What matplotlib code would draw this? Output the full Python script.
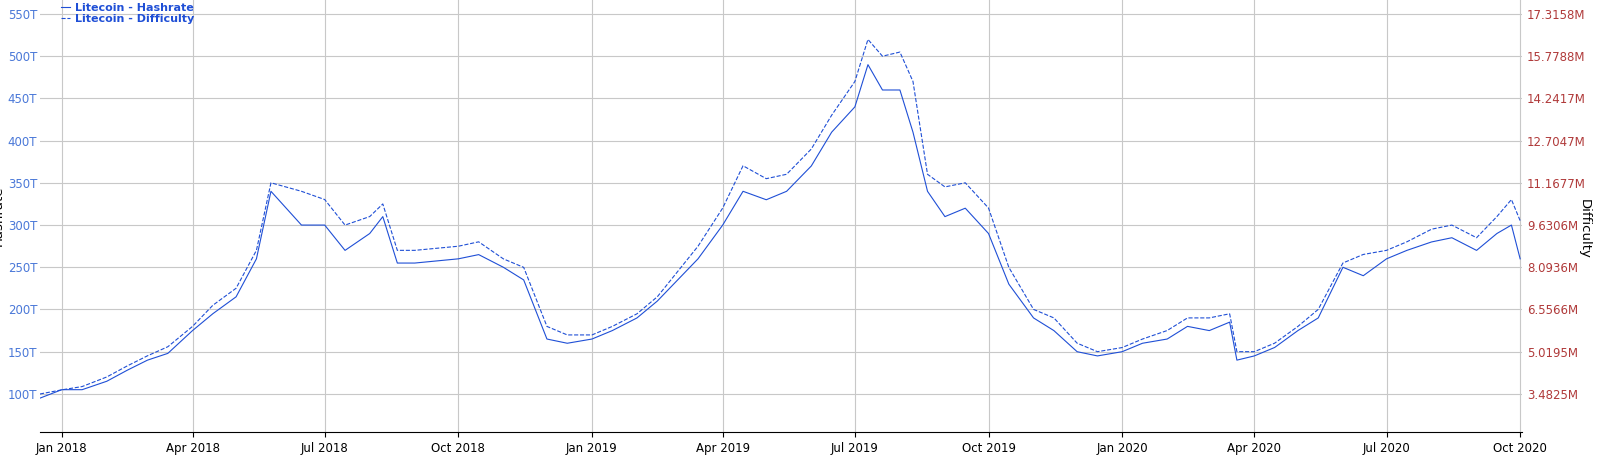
import matplotlib
matplotlib.use("Agg")
from matplotlib import pyplot as plt
import matplotlib.dates as mdates
import pandas as pd

# sample dates
dates = ["2017-12-17", "2018-01-01", "2018-01-15", "2018-02-01", "2018-02-15", "2018-03-01",
         "2018-03-15", "2018-04-01", "2018-04-15", "2018-05-01", "2018-05-15", "2018-05-25",
         "2018-06-15", "2018-07-01", "2018-07-15", "2018-08-01", "2018-08-10", "2018-08-20",
         "2018-09-01", "2018-10-01", "2018-10-15", "2018-11-01", "2018-11-15", "2018-12-01",
         "2018-12-15", "2019-01-01", "2019-01-15", "2019-02-01", "2019-02-15", "2019-03-01",
         "2019-03-15", "2019-04-01", "2019-04-15", "2019-05-01", "2019-05-15", "2019-06-01",
         "2019-06-15", "2019-07-01", "2019-07-10", "2019-07-20", "2019-08-01", "2019-08-10",
         "2019-08-20", "2019-09-01", "2019-09-15", "2019-10-01", "2019-10-15", "2019-11-01",
         "2019-11-15", "2019-12-01", "2019-12-15", "2020-01-01", "2020-01-15", "2020-02-01",
         "2020-02-15", "2020-03-01", "2020-03-15", "2020-03-20", "2020-04-01", "2020-04-15",
         "2020-05-01", "2020-05-15", "2020-06-01", "2020-06-15", "2020-07-01", "2020-07-15",
         "2020-08-01", "2020-08-15", "2020-09-01", "2020-09-15", "2020-09-25", "2020-10-01"]

hashrate_T = [95, 105, 105, 115, 128, 140, 148, 175, 195, 215, 260, 340,
              300, 300, 270, 290, 310, 255, 255, 260, 265, 250, 235, 165,
              160, 165, 175, 190, 210, 235, 260, 300, 340, 330, 340, 370,
              410, 440, 490, 460, 460, 410, 340, 310, 320, 290, 230, 190,
              175, 150, 145, 150, 160, 165, 180, 175, 185, 140, 145, 155,
              175, 190, 250, 240, 260, 270, 280, 285, 270, 290, 300, 260]

difficulty_M = [3.48, 3.63, 3.75, 4.1, 4.5, 4.87, 5.2, 5.94, 6.71, 7.33, 8.71, 11.17,
                10.86, 10.56, 9.63, 9.94, 10.4, 8.71, 8.71, 8.86, 9.02, 8.4, 8.09, 5.94,
                5.63, 5.63, 5.94, 6.4, 7.02, 7.94, 8.86, 10.25, 11.79, 11.32, 11.48, 12.4,
                13.63, 14.86, 16.39, 15.78, 15.93, 14.86, 11.48, 11.02, 11.17, 10.25, 8.09, 6.56,
                6.25, 5.33, 5.02, 5.17, 5.48, 5.79, 6.25, 6.25, 6.4, 5.02, 5.02, 5.33,
                5.94, 6.56, 8.25, 8.56, 8.71, 9.02, 9.48, 9.63, 9.17, 9.94, 10.56, 9.79]

left_ticks = [100, 150, 200, 250, 300, 350, 400, 450, 500, 550]
right_labels = ["3.4825M", "5.0195M", "6.5566M", "8.0936M", "9.6306M",
                "11.1677M", "12.7047M", "14.2417M", "15.7788M", "17.3158M"]

x = pd.to_datetime(dates)
blue = "#1f4fd6"

fig = plt.figure(figsize=(16, 4.58), dpi=100)
ax = fig.add_axes([0.025, 0.057, 0.926, 0.943])
ax.plot(x, hashrate_T, color=blue, lw=0.8)
ax.set_ylim(55, 566.6)
ax.set_yticks(left_ticks)
ax.set_yticklabels([f"{v}T" for v in left_ticks], color="#4a78d8", fontsize=8.5)
ax.tick_params(axis="y", length=0, pad=2)
ax.set_ylabel("Hashrate", fontsize=9.5, labelpad=2)
ax.set_xlim(pd.Timestamp("2017-12-17"), pd.Timestamp("2020-10-02"))
ax.xaxis.set_major_locator(mdates.MonthLocator(bymonth=[1, 4, 7, 10]))
ax.xaxis.set_major_formatter(mdates.DateFormatter("%b %Y"))
ax.tick_params(axis="x", labelsize=8.5)
ax.grid(True, color="#c8c8c8", lw=0.8)
for s in ["top", "right", "left"]:
    ax.spines[s].set_visible(False)

# difficulty axis, linear mapping matching the gridlines
d0, k = 3.4825, (17.3158 - 3.4825) / 450
ax2 = ax.twinx()
ax2.plot(x, difficulty_M, color=blue, lw=0.8, ls="--")
ax2.set_ylim(d0 + (55 - 100) * k, d0 + (566.6 - 100) * k)
ax2.set_yticks([d0 + (v - 100) * k for v in left_ticks])
ax2.set_yticklabels(right_labels, color="#b03a3a", fontsize=8.5)
ax2.tick_params(axis="y", length=0, pad=4)
for s in ax2.spines.values():
    s.set_visible(False)
fig.text(0.994, 0.5, "Difficulty", rotation=270, fontsize=9.5, va="center", ha="right")

fig.legend(handles=[ax.lines[0], ax2.lines[0]],
           labels=["Litecoin - Hashrate", "Litecoin - Difficulty"],
           loc="upper left", bbox_to_anchor=(0.032, 1.015), frameon=False,
           handlelength=0.8, handletextpad=0.4, labelspacing=0.1, labelcolor=blue,
           prop={"weight": "bold", "size": 8})

fig.savefig("out.png")
